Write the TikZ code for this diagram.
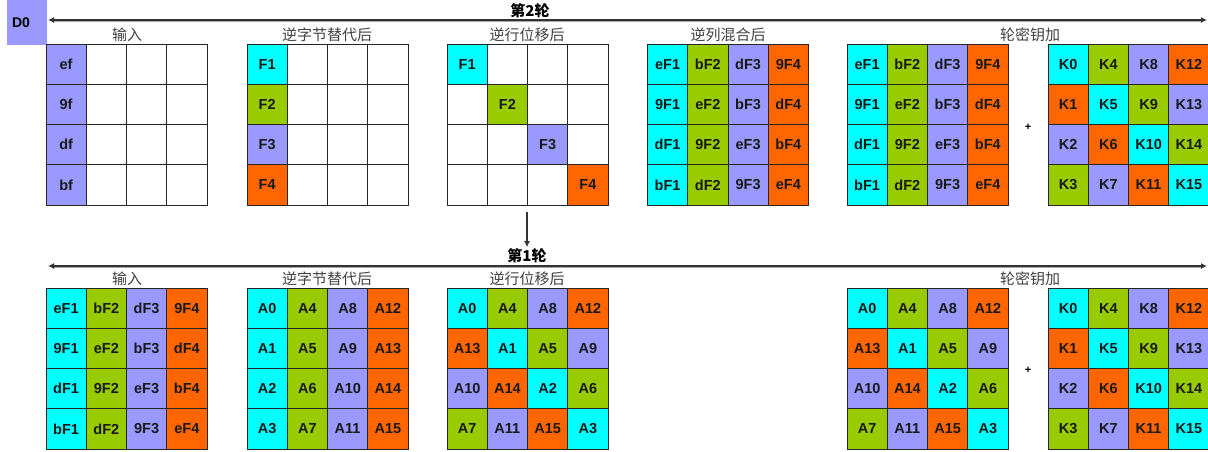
\documentclass[tikz,border=0pt]{standalone}
\usepackage{fontspec}
\setmainfont{Liberation Sans}
\newfontfamily\cjk{Noto Sans CJK SC}
\usetikzlibrary{arrows.meta}
\definecolor{cy}{HTML}{00FFFF}
\definecolor{gr}{HTML}{99CC00}
\definecolor{lv}{HTML}{9999FF}
\definecolor{og}{HTML}{FF6600}
\tikzset{
  cell/.style={draw=black!85, line width=0.9pt, minimum size=40.25pt, inner sep=0pt,
    font=\bfseries\fontsize{14.5}{14.5}\selectfont, text=black!90},
  lab/.style={font=\cjk\fontsize{15}{15}\selectfont, text=black!75, inner sep=0pt},
  rnd/.style={font=\cjk\bfseries\fontsize{15}{15}\selectfont, inner sep=1pt},
  arr/.style={draw=black!80, line width=1.3pt, {Latex[length=6pt,width=6pt]}-{Latex[length=6pt,width=6pt]}},
  shade/.style={draw=black!35, line width=1pt},
  darr/.style={draw=black!80, line width=1.3pt, -{Latex[length=6pt,width=6pt]}},
  plus/.style={font=\bfseries\fontsize{11}{11}\selectfont, inner sep=0pt},
  dbox/.style={fill=lv, minimum width=40pt, minimum height=45pt, inner sep=0pt}
}
\newcommand\mkgrid[4]{%
  \foreach \t/\c [count=\i from 0] in {#4} {%
    \pgfmathtruncatemacro\col{int(\i/4)}%
    \pgfmathtruncatemacro\row{mod(\i,4)}%
    \node[cell, fill=\c] (#1-\row-\col) at ({#2+(\col+0.5)*40.25},{#3+(\row+0.5)*40.25}) {\t};
  }%
}
\begin{document}
\begin{tikzpicture}[x=1pt, y=-1pt]
\useasboundingbox (0,0) rectangle (1208,452);
% D0 box
\node[dbox] (d0) at (27,22.5) {};
\node[font=\bfseries\fontsize{14}{14}\selectfont, inner sep=0pt] (d0t) at (21,23) {D0};
% round 2 arrow
\coordinate (a2L) at (48,20);
\coordinate (a2R) at (1207,20);
\draw[shade] ([shift={(4,1.4)}]a2L) -- ([shift={(-4,1.4)}]a2R);
\draw[arr] (a2L) -- (a2R);
\node[rnd, anchor=south] (r2) at (530,19) {第2轮};
% top labels
\node[lab] (l1) at (127,35) {输入};
\node[lab] (l2) at (327,35) {逆字节替代后};
\node[lab] (l3) at (527,35) {逆行位移后};
\node[lab] (l4) at (728,35) {逆列混合后};
\node[lab] (l5) at (1030,35) {轮密钥加};
% top grids
\mkgrid{ta}{46}{44}{ef/lv,9f/lv,df/lv,bf/lv,{}/white,{}/white,{}/white,{}/white,{}/white,{}/white,{}/white,{}/white,{}/white,{}/white,{}/white,{}/white}
\mkgrid{tb}{247}{44}{F1/cy,F2/gr,F3/lv,F4/og,{}/white,{}/white,{}/white,{}/white,{}/white,{}/white,{}/white,{}/white,{}/white,{}/white,{}/white,{}/white}
\mkgrid{tc}{447}{44}{F1/cy,{}/white,{}/white,{}/white,{}/white,F2/gr,{}/white,{}/white,{}/white,{}/white,F3/lv,{}/white,{}/white,{}/white,{}/white,F4/og}
\mkgrid{td}{647.5}{44}{eF1/cy,9F1/cy,dF1/cy,bF1/cy,bF2/gr,eF2/gr,9F2/gr,dF2/gr,dF3/lv,bF3/lv,eF3/lv,9F3/lv,9F4/og,dF4/og,bF4/og,eF4/og}
\mkgrid{te}{847}{44}{eF1/cy,9F1/cy,dF1/cy,bF1/cy,bF2/gr,eF2/gr,9F2/gr,dF2/gr,dF3/lv,bF3/lv,eF3/lv,9F3/lv,9F4/og,dF4/og,bF4/og,eF4/og}
\node[plus] (p1) at (1028,127) {+};
\mkgrid{tk}{1048}{44}{K0/cy,K1/og,K2/lv,K3/gr,K4/gr,K5/cy,K6/og,K7/lv,K8/lv,K9/gr,K10/cy,K11/og,K12/og,K13/lv,K14/gr,K15/cy}
% down arrow and round 1
\node[rnd, anchor=south] (r1) at (527,264) {第1轮};
\coordinate (vtop) at (527,212);
\draw[darr] (vtop) -- (r1.north);
\coordinate (a1L) at (48,266);
\coordinate (a1R) at (1207,266);
\draw[shade] ([shift={(4,1.4)}]a1L) -- ([shift={(-4,1.4)}]a1R);
\draw[arr] (a1L) -- (a1R);
% bottom labels
\node[lab] (b1) at (127,279) {输入};
\node[lab] (b2) at (327,279) {逆字节替代后};
\node[lab] (b3) at (527,279) {逆行位移后};
\node[lab] (b5) at (1030,279) {轮密钥加};
% bottom grids
\mkgrid{ba}{46}{288}{eF1/cy,9F1/cy,dF1/cy,bF1/cy,bF2/gr,eF2/gr,9F2/gr,dF2/gr,dF3/lv,bF3/lv,eF3/lv,9F3/lv,9F4/og,dF4/og,bF4/og,eF4/og}
\mkgrid{bb}{247}{288}{A0/cy,A1/cy,A2/cy,A3/cy,A4/gr,A5/gr,A6/gr,A7/gr,A8/lv,A9/lv,A10/lv,A11/lv,A12/og,A13/og,A14/og,A15/og}
\mkgrid{bc}{447}{288}{A0/cy,A13/og,A10/lv,A7/gr,A4/gr,A1/cy,A14/og,A11/lv,A8/lv,A5/gr,A2/cy,A15/og,A12/og,A9/lv,A6/gr,A3/cy}
\mkgrid{be}{847}{288}{A0/cy,A13/og,A10/lv,A7/gr,A4/gr,A1/cy,A14/og,A11/lv,A8/lv,A5/gr,A2/cy,A15/og,A12/og,A9/lv,A6/gr,A3/cy}
\node[plus] (p2) at (1028,370) {+};
\mkgrid{bk}{1048}{288}{K0/cy,K1/og,K2/lv,K3/gr,K4/gr,K5/cy,K6/og,K7/lv,K8/lv,K9/gr,K10/cy,K11/og,K12/og,K13/lv,K14/gr,K15/cy}
\end{tikzpicture}
\end{document}
